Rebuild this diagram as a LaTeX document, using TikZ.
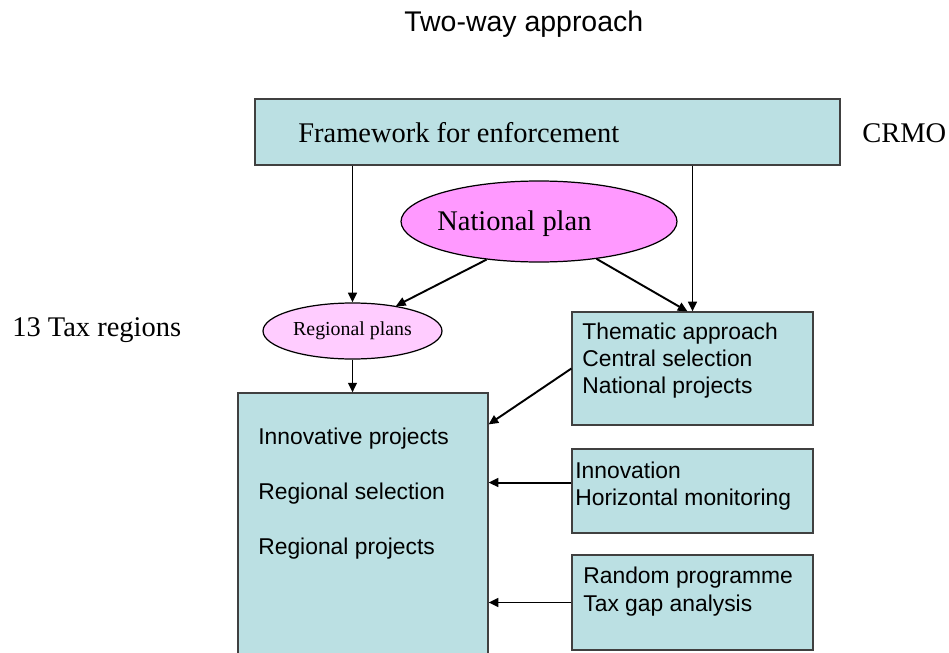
\documentclass[tikz,border=0pt]{standalone}
\usepackage{fontspec}
\setmainfont{Liberation Serif}
\setsansfont{Liberation Sans}
\usetikzlibrary{shapes.geometric,arrows.meta,calc}
\definecolor{boxblue}{RGB}{187,224,227}
\definecolor{planpink}{RGB}{255,153,255}
\definecolor{regpink}{RGB}{255,204,255}
\definecolor{edgegray}{RGB}{64,64,64}

\begin{document}
\begin{tikzpicture}[x=0.02cm,y=-0.02cm,
    blubox/.style={draw=edgegray,fill=boxblue,line width=0.7pt,inner sep=0pt},
    planell/.style={ellipse,draw,line width=0.7pt,inner sep=0pt},
    arr/.style={-{Triangle[length=5.5pt,width=5pt]},line width=1.1pt},
    serif/.style={font=\fontsize{16.2}{19}\selectfont,inner sep=0pt,anchor=base west},
    sans/.style={font=\sffamily\fontsize{13}{15.5}\selectfont,inner sep=0pt,anchor=base west}]
  \useasboundingbox (0,0) rectangle (949,652);
  \node[serif,font=\sffamily\fontsize{16.2}{19}\selectfont] (title) at (404,32) {Two-way approach};
  % boxes and ellipses
  \node[blubox,minimum width=11.7cm,minimum height=1.32cm] (frame) at (547.5,132) {};
  \node[blubox,minimum width=5cm,minimum height=5.34cm] (regbox) at (363,526.5) {};
  \node[blubox,minimum width=4.82cm,minimum height=2.26cm] (thematic) at (692.5,368.5) {};
  \node[blubox,minimum width=4.82cm,minimum height=1.68cm] (innov) at (692.5,491) {};
  \node[blubox,minimum width=4.82cm,minimum height=1.9cm] (random) at (692.5,602.5) {};
  \node[planell,fill=planpink,minimum width=5.52cm,minimum height=1.62cm] (national) at (539,221.5) {};
  \node[planell,fill=regpink,minimum width=3.58cm,minimum height=1.12cm,font=\fontsize{11.3}{13}\selectfont] (regplans) at (352.5,331) {Regional plans};
  % texts
  \node[serif] (framet) at (298,142) {Framework for enforcement};
  \node[serif] (crmo) at (862,142) {CRMO};
  \node[serif] (nationalt) at (437,230) {National plan};
  \node[serif] (taxreg) at (12,336) {13 Tax regions};
  \foreach \t [count=\i from 0] in {Innovative projects,Regional selection,Regional projects}
    \node[sans] (reg\i) at (258,{444+55*\i}) {\t};
  \foreach \t [count=\i from 0] in {Thematic approach,Central selection,National projects}
    \node[sans] (them\i) at (582,{339+27*\i}) {\t};
  \foreach \t [count=\i from 0] in {Innovation,Horizontal monitoring}
    \node[sans] (inno\i) at (575,{478+27*\i}) {\t};
  \foreach \t [count=\i from 0] in {Random programme,Tax gap analysis}
    \node[sans] (rand\i) at (583,{583+28*\i}) {\t};
  % arrows
  \draw[arr] (regplans.north |- frame.south) -- (regplans.north);
  \draw[arr] (thematic.north |- frame.south) -- (thematic.north);
  \draw[arr] (national.216) -- (regplans.30);
  \draw[arr] (national.327) -- (thematic.95);
  \draw[arr] (regplans.south) -- (regplans.south |- regbox.north);
  \draw[arr] (thematic.west) -- ($(regbox.north east)+(0,32)$);
  \draw[arr] (innov.176) -- (innov.176 -| regbox.east);
  \draw[arr] (random.west) -- (random.west -| regbox.east);
\end{tikzpicture}
\end{document}
